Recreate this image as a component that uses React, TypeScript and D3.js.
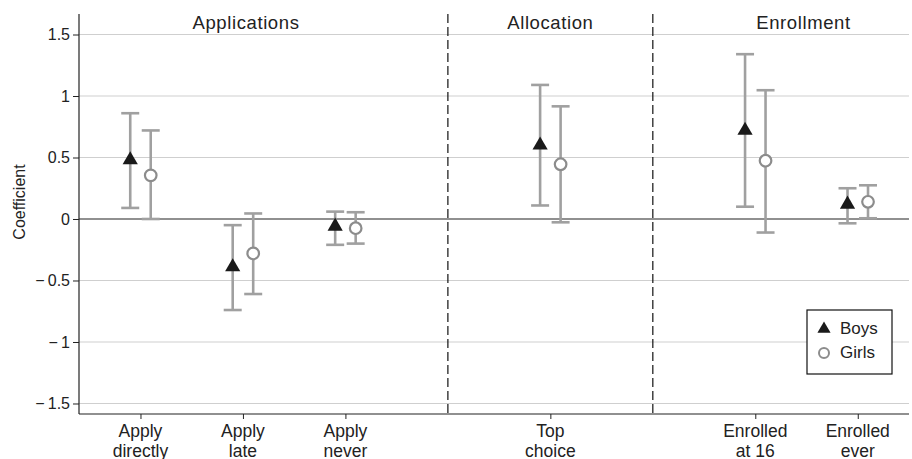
import * as d3 from "d3";
import { useEffect, useRef } from "react";

const categories = ["Apply\ndirectly", "Apply\nlate", "Apply\nnever", "Top\nchoice", "Enrolled\nat 16", "Enrolled\never"];
const catPositions = [1, 2, 3, 5, 7, 8];
const sections = ["Applications", "Allocation", "Enrollment"];
const sectionPositions = [2.03, 5, 7.47];
const dividers = [4, 6];

const boysCoef = [0.48, -0.39, -0.06, 0.6, 0.72, 0.12];
const boysLo = [0.09, -0.74, -0.21, 0.11, 0.1, -0.035];
const boysHi = [0.86, -0.05, 0.06, 1.09, 1.34, 0.25];
const girlsCoef = [0.355, -0.28, -0.075, 0.445, 0.474, 0.14];
const girlsLo = [0.0, -0.61, -0.2, -0.027, -0.11, 0.006];
const girlsHi = [0.72, 0.045, 0.055, 0.916, 1.047, 0.274];

const yTicks = [-1.5, -1, -0.5, 0, 0.5, 1, 1.5];

export default function App() {
  const svgRef = useRef<SVGSVGElement | null>(null);
  const width = 912;
  const height = 459;
  const marginLeft = 79;
  const marginRight = 3;
  const marginTop = 14;
  const plotBottom = 414;

  useEffect(() => {
    const svg = d3.select(svgRef.current);
    svg.selectAll("*").remove();

    const x = d3.scaleLinear().domain([0.4, 8.5]).range([marginLeft, width - marginRight]);
    const y = d3.scaleLinear().domain([-1.5854, 1.6667]).range([plotBottom, marginTop]);
    const font = "'Liberation Sans', Arial, Helvetica, sans-serif";
    const offset = 0.1;
    const grey = "#a0a0a0";

    // gridlines
    svg.append("g")
      .selectAll("line")
      .data(yTicks.filter(d => d !== 0))
      .enter()
      .append("line")
      .attr("x1", marginLeft)
      .attr("x2", width - marginRight)
      .attr("y1", d => y(d))
      .attr("y2", d => y(d))
      .attr("stroke", "#cfcfcf")
      .attr("stroke-width", 1.2);

    // zero line
    svg.append("line")
      .attr("x1", marginLeft)
      .attr("x2", width - marginRight)
      .attr("y1", y(0))
      .attr("y2", y(0))
      .attr("stroke", "#222")
      .attr("stroke-width", 1.2);

    // dashed dividers
    svg.append("g")
      .selectAll("line")
      .data(dividers)
      .enter()
      .append("line")
      .attr("x1", d => x(d))
      .attr("x2", d => x(d))
      .attr("y1", marginTop)
      .attr("y2", plotBottom)
      .attr("stroke", "#111")
      .attr("stroke-width", 1.2)
      .attr("stroke-dasharray", "9,4");

    // y axis
    const yAxis = d3.axisLeft(y)
      .tickValues(yTicks)
      .tickSize(6)
      .tickPadding(3)
      .tickFormat(d => {
        const v = +d;
        return v < 0 ? "\u2212\u2009" + String(Math.abs(v)) : String(v);
      });

    svg.append("g")
      .attr("transform", `translate(${marginLeft},0)`)
      .call(yAxis)
      .call(g => {
        g.select(".domain").attr("d", `M0,${marginTop}V${plotBottom}`).attr("stroke", "#222").attr("stroke-width", 1.2);
        g.selectAll(".tick line").attr("stroke", "#222");
        g.selectAll(".tick text").attr("font-family", font).attr("font-size", 16).attr("fill", "#222");
      });

    // x axis
    const xAxis = d3.axisBottom(x)
      .tickValues(catPositions)
      .tickSize(5)
      .tickFormat(() => "");

    svg.append("g")
      .attr("transform", `translate(0,${plotBottom})`)
      .call(xAxis)
      .call(g => {
        g.select(".domain").attr("d", `M${marginLeft},0H${width - marginRight}`).attr("stroke", "#222").attr("stroke-width", 1.2);
        g.selectAll(".tick line").attr("stroke", "#222");
      });

    // x labels (two lines)
    const xLabels = svg.append("g")
      .selectAll("text")
      .data(categories)
      .enter()
      .append("text")
      .attr("text-anchor", "middle")
      .attr("font-family", font)
      .attr("font-size", 17.5)
      .attr("fill", "#222");
    xLabels.each(function (d, i) {
      const lines = d.split("\n");
      d3.select(this)
        .selectAll("tspan")
        .data(lines)
        .enter()
        .append("tspan")
        .attr("x", x(catPositions[i]))
        .attr("y", (_, j) => 437 + j * 19.5)
        .text(t => t);
    });

    // section titles
    svg.append("g")
      .selectAll("text")
      .data(sections)
      .enter()
      .append("text")
      .attr("x", (d, i) => x(sectionPositions[i]))
      .attr("y", 28.5)
      .attr("text-anchor", "middle")
      .attr("font-family", font)
      .attr("font-size", 18.5)
      .attr("letter-spacing", 0.6)
      .attr("fill", "#222")
      .text(d => d);

    // y title
    svg.append("text")
      .attr("transform", `translate(25,${202}) rotate(-90)`)
      .attr("text-anchor", "middle")
      .attr("font-family", font)
      .attr("font-size", 16)
      .attr("fill", "#222")
      .text("Coefficient");

    const capW = 9;
    const drawSeries = (coef: number[], lo: number[], hi: number[], dx: number, kind: string) => {
      const g = svg.append("g");
      coef.forEach((c, i) => {
        const cx = x(catPositions[i] + dx);
        g.append("line")
          .attr("x1", cx).attr("x2", cx)
          .attr("y1", y(lo[i])).attr("y2", y(hi[i]))
          .attr("stroke", grey).attr("stroke-width", 2.6);
        [lo[i], hi[i]].forEach(v => {
          g.append("line")
            .attr("x1", cx - capW).attr("x2", cx + capW)
            .attr("y1", y(v)).attr("y2", y(v))
            .attr("stroke", grey).attr("stroke-width", 2.6);
        });
        if (kind === "triangle") {
          g.append("path")
            .attr("d", d3.symbol(d3.symbolTriangle, 100)())
            .attr("transform", `translate(${cx},${y(c)})`)
            .attr("fill", "#1a1a1a");
        } else {
          g.append("circle")
            .attr("cx", cx).attr("cy", y(c)).attr("r", 5.8)
            .attr("fill", "white")
            .attr("stroke", "#8c8c8c").attr("stroke-width", 2.2);
        }
      });
    };

    drawSeries(boysCoef, boysLo, boysHi, -offset, "triangle");
    drawSeries(girlsCoef, girlsLo, girlsHi, offset, "circle");

    // legend
    const legend = svg.append("g").attr("transform", "translate(807,310)");
    legend.append("rect")
      .attr("width", 85)
      .attr("height", 64)
      .attr("fill", "white")
      .attr("stroke", "#111")
      .attr("stroke-width", 1.2);
    legend.append("path")
      .attr("d", d3.symbol(d3.symbolTriangle, 75)())
      .attr("transform", "translate(17,19)")
      .attr("fill", "#1a1a1a");
    legend.append("circle")
      .attr("cx", 17).attr("cy", 43).attr("r", 5)
      .attr("fill", "white")
      .attr("stroke", "#8c8c8c").attr("stroke-width", 2);
    legend.selectAll(".lbl")
      .data(["Boys", "Girls"])
      .enter()
      .append("text")
      .attr("class", "lbl")
      .attr("x", 33)
      .attr("y", (d, i) => 24 + i * 24)
      .attr("font-family", font)
      .attr("font-size", 17)
      .attr("fill", "#222")
      .text(d => d);
  }, []);

  return (
    <svg
      ref={svgRef}
      width={width}
      height={height}
      style={{ position: "absolute", left: 0, top: 0, background: "white" }}
    />
  );
}
